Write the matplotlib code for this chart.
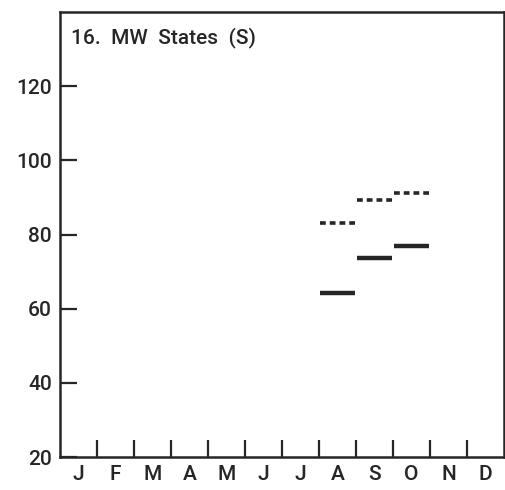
import matplotlib.pyplot as plt

months = ["J", "F", "M", "A", "M", "J", "J", "A", "S", "O", "N", "D"]
bar_months = [7, 8, 9]  # Aug, Sep, Oct (0-based)
solid_vals = [64.3, 73.6, 77.0]
dotted_vals = [83.1, 89.4, 91.2]
yticks = [20, 40, 60, 80, 100, 120]
title = "16.  MW  States  (S)"

ink = "#262626"
plt.rcParams["font.family"] = ["Roboto", "Liberation Sans", "DejaVu Sans"]
plt.rcParams["font.weight"] = "medium"

fig = plt.figure(figsize=(5.06, 4.9), dpi=100)
ax = fig.add_axes([0.1186, 0.0673, 0.8774, 0.9082])

for m, v in zip(bar_months, solid_vals):
    ax.hlines(v, m + 0.02, m + 0.98, color=ink, lw=3.2)
for m, v in zip(bar_months, dotted_vals):
    ax.hlines(v, m + 0.02, m + 0.98, color=ink, lw=2.6, linestyles=(0, (1.6, 1.1)))

ax.set_xlim(0, 12)
ax.set_ylim(20, 140)

ax.set_xticks(range(1, 12))
ax.set_xticklabels([])
ax.set_xticks([i + 0.5 for i in range(12)], minor=True)
ax.set_xticklabels(months, minor=True, fontsize=15, color=ink)
ax.tick_params(axis="x", which="major", direction="in", length=12, width=1.6, color=ink)
ax.tick_params(axis="x", which="minor", length=0, pad=6)

ax.set_yticks(yticks)
ax.set_yticklabels([str(t) for t in yticks], fontsize=15, color=ink)
ax.tick_params(axis="y", direction="in", length=12, width=1.6, color=ink, pad=6)

for s in ax.spines.values():
    s.set_linewidth(1.8)
    s.set_color(ink)

ax.text(0.025, 0.965, title, transform=ax.transAxes, ha="left", va="top",
        fontsize=15, color=ink)

fig.savefig("out.png", dpi=100)
